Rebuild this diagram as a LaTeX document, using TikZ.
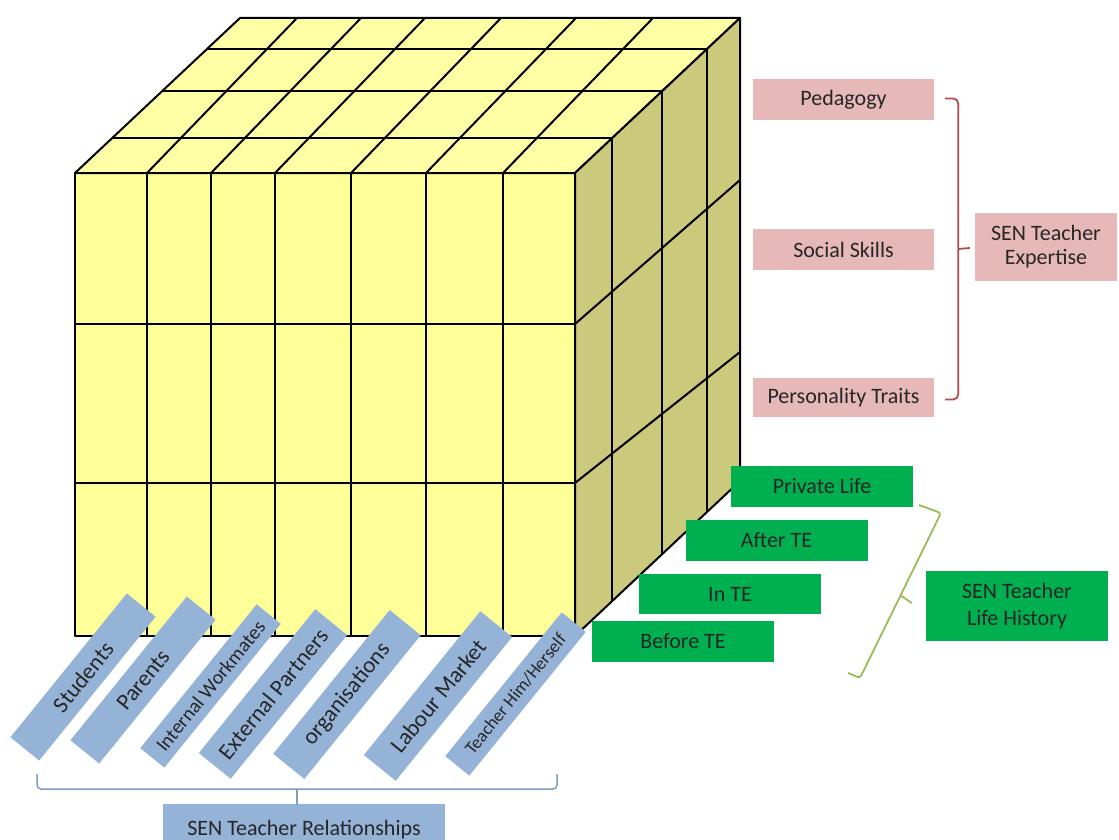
\documentclass[tikz,border=0pt]{standalone}
\usepackage{fontspec}
\setmainfont{Carlito}
\usetikzlibrary{calc}

\definecolor{frontyellow}{HTML}{FFFF99}
\definecolor{topyellow}{HTML}{FFFFA6}
\definecolor{sideolive}{HTML}{CBC97C}
\definecolor{pinkfill}{HTML}{E6B9B8}
\definecolor{greenfill}{HTML}{00B050}
\definecolor{bluefill}{HTML}{95B3D7}
\definecolor{pinkline}{HTML}{B6484B}
\definecolor{greenline}{HTML}{9BBB59}
\definecolor{blueline}{HTML}{7F9CC2}
\definecolor{ink}{HTML}{262626}

\tikzset{
  cubeline/.style={line width=2pt, draw=black, line join=round},
  txt/.style={text=ink, inner sep=0pt, align=center, font=\fontsize{22}{26}\selectfont},
  pinkbox/.style={txt, fill=pinkfill, minimum width=181pt, minimum height=41pt},
  greenbox/.style={txt, fill=greenfill, minimum width=182pt, minimum height=41pt},
  bluebox/.style={txt, fill=bluefill, rotate=51, minimum width=185pt, minimum height=38pt, font=\fontsize{23}{26}\selectfont},
  pinkbrace/.style={draw=pinkline, line width=1.8pt},
  greenbrace/.style={draw=greenline, line width=1.8pt},
  bluebrace/.style={draw=blueline, line width=1.5pt},
}

\begin{document}
\begin{tikzpicture}[x=1pt,y=-1pt]
\useasboundingbox (0,0) rectangle (1119,840);

% ---- the cube: front, top and right faces ----
\filldraw[cubeline, fill=frontyellow] (75,173) rectangle (575,636);
\filldraw[cubeline, fill=topyellow] (75,173) -- (240,18) -- (740,18) -- (575,173) -- cycle;
\filldraw[cubeline, fill=sideolive] (575,173) -- (740,18) -- (740,481) -- (575,636) -- cycle;

% front face grid (7 columns, 3 rows)
\foreach \x in {147,211,275,351,426,503}
  \draw[cubeline] (\x,173) -- (\x,636);
\foreach \y in {324,483}
  \draw[cubeline] (75,\y) -- (575,\y);

% top face grid
\foreach \x in {147,211,275,351,426,503}
  \draw[cubeline] (\x,173) -- ({\x+150},18);
\foreach \y in {138,91,49}
  \draw[cubeline] ({75+(173-\y)/155*165},\y) -- ({575+(173-\y)/155*165},\y);

% right face grid (4 columns, 3 rows)
\foreach \y in {138,91,49}
  \draw[cubeline] ({575+(173-\y)/155*165},\y) -- ({575+(173-\y)/155*165},{\y+463});
\draw[cubeline] (575,324) -- (740,180);
\draw[cubeline] (575,483) -- (740,352);

% ---- expertise axis ----
\node[pinkbox] (ped) at (843.5,99.5) {Pedagogy};
\node[pinkbox] (soc) at (843.5,249.5) {Social Skills};
\node[pinkbox, minimum height=39pt] (pers) at (843.5,397.5) {Personality Traits};
\node[pinkbox, minimum width=142pt, minimum height=68pt, font=\fontsize{22}{24}\selectfont] (expertise) at (1046,247) {SEN Teacher\\Expertise};

\coordinate (pb1) at ($(ped.east)+(11,-1)$);
\coordinate (pb2) at ($(pers.east)+(11,2)$);
\draw[pinkbrace, rounded corners=5pt] (pb1) -- ($(pb1)+(13,0)$) -- ($(pb2)+(13,0)$) -- (pb2);
\draw[pinkbrace] ($(pb1)!0.5!(pb2)+(13,0)$) -- ($(expertise.west)+(-5,1)$);

% ---- life history axis ----
\node[greenbox] (priv) at (822,486) {Private Life};
\node[greenbox] (after) at (776.5,540.5) {After TE};
\node[greenbox, minimum height=40pt] (inte) at (730,594) {In TE};
\node[greenbox] (before) at (683,641.5) {Before TE};
\node[greenbox, minimum height=70pt, font=\fontsize{22}{27}\selectfont] (lifehist) at (1017,606) {SEN Teacher\\Life History};

\coordinate (gb1) at (919,505);
\coordinate (gb2) at (848,673);
\draw[greenbrace, rounded corners=3pt] (gb1) -- (941,513) -- (860,678) -- (gb2);
\draw[greenbrace] (900.5,595.5) -- ($(lifehist.west)+(-14,-3)$);

% ---- relationships axis ----
\node[bluebox, minimum height=37pt] (stu) at (83,677) {Students};
\node[bluebox, minimum height=37pt] (par) at (143,680) {Parents};
\node[bluebox, minimum height=31pt, font=\fontsize{20}{24}\selectfont] (iw) at (210.5,686) {Internal Workmates};
\node[bluebox, minimum height=41pt] (ep) at (273,694) {External Partners};
\node[bluebox, minimum height=40pt] (org) at (347,694.5) {organisations};
\node[bluebox, minimum height=41pt] (lab) at (438,696) {Labour Market};
\node[bluebox, minimum height=31pt, font=\fontsize{18}{22}\selectfont] (tea) at (515.5,694) {Teacher Him/Herself};

\node[txt, fill=bluefill, minimum width=282pt, minimum height=50pt, anchor=base] (rel) at (304,835) {SEN Teacher Relationships};

\coordinate (bb1) at (37,774);
\coordinate (bb2) at (557,774);
\draw[bluebrace, rounded corners=4pt] (bb1) -- (37,789) -- (557,789) -- (bb2);
\draw[bluebrace] (297,789) -- (297,805);
\end{tikzpicture}
\end{document}
